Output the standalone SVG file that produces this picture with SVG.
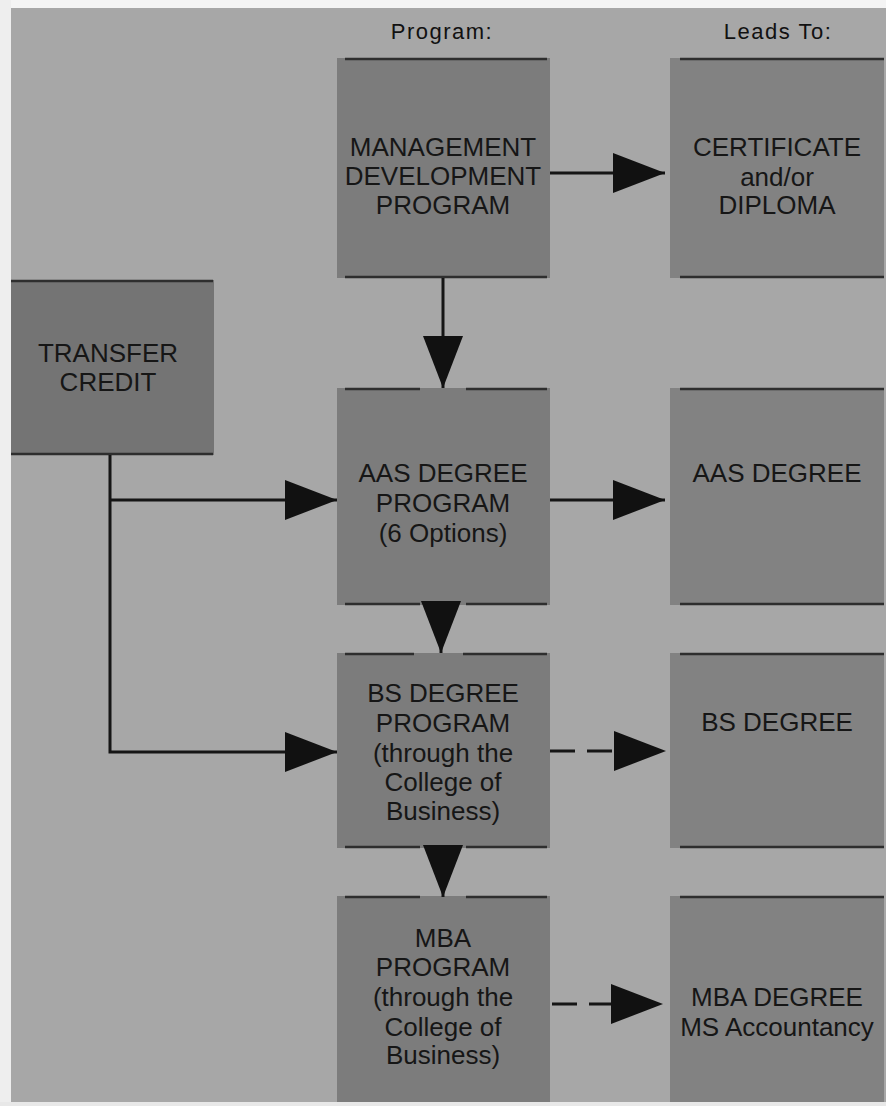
<svg xmlns="http://www.w3.org/2000/svg" width="886" height="1106" viewBox="0 0 886 1106">
  <style>
    .box { fill: #7c7c7c; }
    .dark { fill: #747474; }
    .out { fill: #828282; }
    .edge { stroke: #2e2e2e; stroke-width: 2.5; fill: none; }
    .lbl { font-family: "Liberation Sans", Arial, sans-serif; font-size: 26px; fill: #161616; text-anchor: middle; dominant-baseline: central; }
    .hdr { font-family: "Liberation Sans", Arial, sans-serif; font-size: 22px; fill: #111; text-anchor: middle; letter-spacing: 1.5px; }
    .conn { stroke: #151515; stroke-width: 3; fill: none; }
    .dash { stroke-dasharray: 25 12 25 200; }
  </style>
  <defs>
    <marker id="ah" viewBox="0 0 52 40" refX="52" refY="20" markerWidth="52" markerHeight="40" markerUnits="userSpaceOnUse" orient="auto">
      <polygon points="0,0 52,20 0,40" fill="#111"/>
    </marker>
  </defs>

  <rect x="0" y="0" width="886" height="1106" fill="#a7a7a7"/>
  <rect x="0" y="0" width="886" height="8" fill="#f4f4f4"/>
  <rect x="0" y="0" width="11" height="1106" fill="#eeeeee"/>
  <rect x="0" y="1102" width="886" height="4" fill="#e8e8e8"/>

  <text class="hdr" x="442" y="39">Program:</text>
  <text class="hdr" x="778" y="39">Leads To:</text>

  <g id="mdp">
    <rect class="box" x="337" y="58" width="213" height="220"/>
    <path class="edge" d="M345 59 H547 M345 277 H547"/>
    <text class="lbl" x="443" y="147">MANAGEMENT</text>
    <text class="lbl" x="443" y="176">DEVELOPMENT</text>
    <text class="lbl" x="443" y="205">PROGRAM</text>
  </g>

  <g id="cert">
    <rect class="out" x="670" y="58" width="214" height="220"/>
    <path class="edge" d="M680 59 H884 M680 277 H884"/>
    <text class="lbl" x="777" y="147">CERTIFICATE</text>
    <text class="lbl" x="777" y="177">and/or</text>
    <text class="lbl" x="777" y="205">DIPLOMA</text>
  </g>

  <g id="transfer">
    <rect class="dark" x="11" y="280" width="203" height="175"/>
    <path class="edge" d="M11 281 H213 M11 454 H213"/>
    <text class="lbl" x="108" y="353">TRANSFER</text>
    <text class="lbl" x="108" y="382">CREDIT</text>
  </g>

  <g id="aas">
    <rect class="box" x="337" y="388" width="213" height="217"/>
    <path class="edge" d="M345 389 H420 M466 389 H547 M345 604 H420 M466 604 H547"/>
    <text class="lbl" x="443" y="473">AAS DEGREE</text>
    <text class="lbl" x="443" y="503">PROGRAM</text>
    <text class="lbl" x="443" y="533">(6 Options)</text>
  </g>

  <g id="aasdeg">
    <rect class="out" x="670" y="388" width="214" height="217"/>
    <path class="edge" d="M680 389 H884 M680 604 H884"/>
    <text class="lbl" x="777" y="473">AAS DEGREE</text>
  </g>

  <g id="bs">
    <rect class="box" x="337" y="653" width="213" height="195"/>
    <path class="edge" d="M345 654 H414 M463 654 H547 M345 847 H420 M466 847 H547"/>
    <text class="lbl" x="443" y="693">BS DEGREE</text>
    <text class="lbl" x="443" y="723">PROGRAM</text>
    <text class="lbl" x="443" y="753">(through the</text>
    <text class="lbl" x="443" y="782">College of</text>
    <text class="lbl" x="443" y="811">Business)</text>
  </g>

  <g id="bsdeg">
    <rect class="out" x="670" y="653" width="214" height="195"/>
    <path class="edge" d="M680 654 H884 M680 847 H884"/>
    <text class="lbl" x="777" y="722">BS DEGREE</text>
  </g>

  <g id="mba">
    <rect class="box" x="337" y="896" width="213" height="206"/>
    <path class="edge" d="M345 897 H420 M466 897 H547"/>
    <text class="lbl" x="443" y="938">MBA</text>
    <text class="lbl" x="443" y="967">PROGRAM</text>
    <text class="lbl" x="443" y="997">(through the</text>
    <text class="lbl" x="443" y="1027">College of</text>
    <text class="lbl" x="443" y="1055">Business)</text>
  </g>

  <g id="mbadeg">
    <rect class="out" x="670" y="896" width="214" height="206"/>
    <path class="edge" d="M680 897 H884"/>
    <text class="lbl" x="777" y="997">MBA DEGREE</text>
    <text class="lbl" x="777" y="1027">MS Accountancy</text>
  </g>

  <g id="connectors">
    <path class="conn" d="M550 173 H665" marker-end="url(#ah)"/>
    <path class="conn" d="M443 278 V388" marker-end="url(#ah)"/>
    <path class="conn" d="M550 500 H665" marker-end="url(#ah)"/>
    <path class="conn" d="M441 604 V653" stroke="none" marker-end="url(#ah)"/>
    <path class="conn" d="M443 847 V897" stroke="none" marker-end="url(#ah)"/>
    <path class="conn dash" d="M550 751 H666" marker-end="url(#ah)"/>
    <path class="conn dash" d="M552 1004 H663" marker-end="url(#ah)"/>
    <path class="conn" d="M110 455 V752 H337" marker-end="url(#ah)"/>
    <path class="conn" d="M110 500 H337" marker-end="url(#ah)"/>
  </g>
</svg>
